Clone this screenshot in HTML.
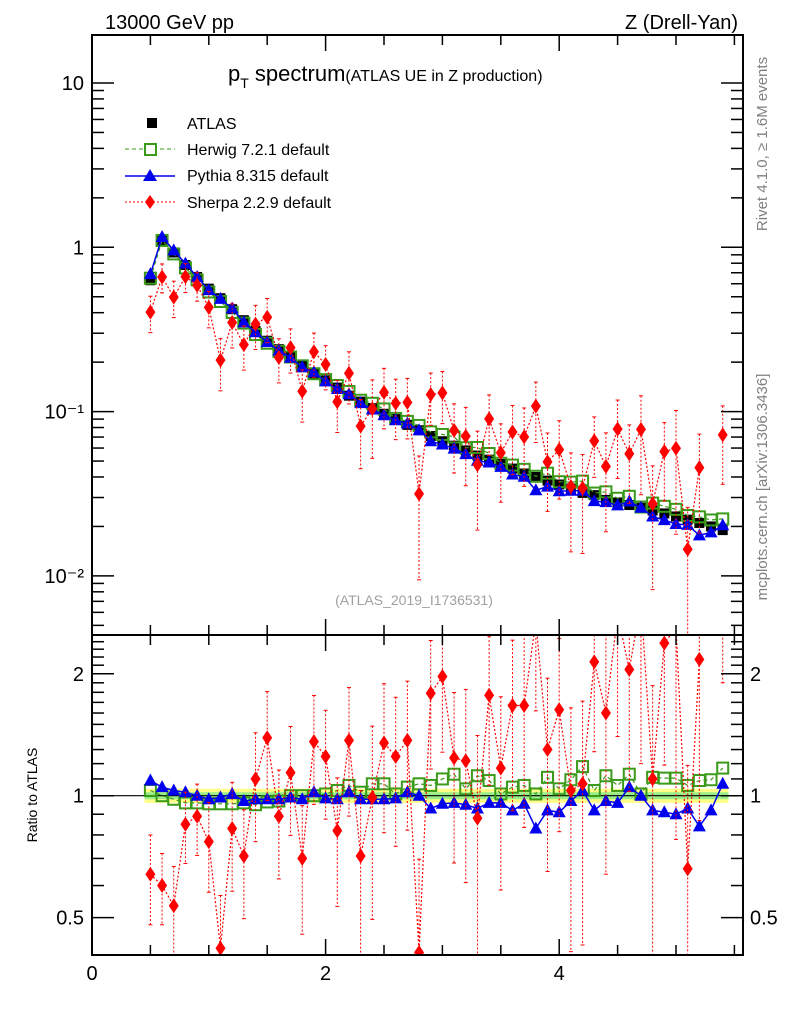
<!DOCTYPE html>
<html><head><meta charset="utf-8">
<style>
html,body{margin:0;padding:0;background:#fff;overflow:hidden;width:786px;height:1024px;}
svg{display:block;font-family:"Liberation Sans",sans-serif;}
</style></head>
<body>
<svg id="chart" width="786" height="1024" viewBox="0 0 786 1024" xmlns="http://www.w3.org/2000/svg">
<text x="105" y="29" font-size="20">13000 GeV pp</text>
<text x="738" y="29" font-size="20" text-anchor="end">Z (Drell-Yan)</text>
<text x="228" y="81" font-size="22">p<tspan font-size="14" dy="7">T</tspan><tspan dy="-7"> spectrum</tspan><tspan font-size="16">(ATLAS UE in Z production)</tspan></text>
<text x="414" y="605" font-size="14" fill="#a0a0a0" text-anchor="middle">(ATLAS_2019_I1736531)</text>
<text transform="translate(767,144) rotate(-90)" font-size="15" fill="#808080" text-anchor="middle">Rivet 4.1.0, ≥ 1.6M events</text>
<text transform="translate(767,487) rotate(-90)" font-size="15" fill="#808080" text-anchor="middle">mcplots.cern.ch [arXiv:1306.3436]</text>
<text transform="translate(37,795) rotate(-90)" font-size="14" text-anchor="middle">Ratio to ATLAS</text>
<g id="legend" font-size="16">
 <g><rect x="147" y="118" width="10" height="10" fill="#000"/><text x="187" y="129">ATLAS</text></g>
 <g><line x1="125" y1="149" x2="175" y2="149" stroke="#3a9a1a" stroke-dasharray="4,3"/><rect x="145" y="144" width="11" height="11" fill="#fff" stroke="#3a9a1a" stroke-width="2"/><text x="187" y="155">Herwig 7.2.1 default</text></g>
 <g><line x1="125" y1="176" x2="175" y2="176" stroke="#0000ee" stroke-width="1.5"/><polygon points="150,169 157,181 143,181" fill="#0000ee"/><text x="187" y="181">Pythia 8.315 default</text></g>
 <g><line x1="125" y1="202" x2="175" y2="202" stroke="#ff0000" stroke-dasharray="2,2"/><polygon points="150,195 155,202 150,209 145,202" fill="#ff0000"/><text x="187" y="208">Sherpa 2.2.9 default</text></g>
</g>
<g id="main"></g>
<g id="ratio"></g>
<g id="axes"></g>
</svg>
<script>
const xs=[0.5,0.6,0.7,0.8,0.9,1.0,1.1,1.2,1.3,1.4,1.5,1.6,1.7,1.8,1.9,2.0,2.1,2.2,2.3,2.4,2.5,2.6,2.7,2.8,2.9,3.0,3.1,3.2,3.3,3.4,3.5,3.6,3.7,3.8,3.9,4.0,4.1,4.2,4.3,4.4,4.5,4.6,4.7,4.8,4.9,5.0,5.1,5.2,5.3,5.4];
const atlas=[0.63,1.1,0.93,0.78,0.66,0.56,0.49,0.42,0.36,0.31,0.27,0.24,0.215,0.19,0.17,0.155,0.14,0.125,0.115,0.105,0.097,0.09,0.083,0.077,0.071,0.066,0.062,0.058,0.054,0.051,0.048,0.045,0.042,0.040,0.038,0.036,0.034,0.032,0.031,0.029,0.028,0.027,0.026,0.025,0.024,0.023,0.022,0.021,0.020,0.019];
const herwigRatio=[1.03,1.0,0.98,0.96,0.96,0.955,0.955,0.955,0.96,0.95,0.965,0.97,1.0,1.0,1.0,1.01,1.03,1.06,1.02,1.07,1.07,1.01,1.05,1.07,1.06,1.10,1.13,1.04,1.12,1.09,1.01,1.05,1.06,1.01,1.11,1.04,1.095,1.18,1.03,1.12,1.06,1.13,1.01,1.11,1.105,1.105,1.06,1.09,1.095,1.17];
const pythiaRatio=[1.09,1.05,1.03,1.02,1.0,0.98,0.99,1.01,0.97,0.98,0.98,0.98,0.99,0.98,1.02,0.985,0.98,1.02,0.98,0.98,0.98,0.985,1.02,1.0,0.93,0.955,0.96,0.95,0.93,0.96,0.96,0.92,0.955,0.83,0.92,0.91,0.97,1.03,0.92,0.97,0.96,1.05,1.0,0.92,0.91,0.90,0.93,0.84,0.92,1.07];
const sherpaRatio=[0.64,0.60,0.535,0.85,0.89,0.77,0.42,0.83,0.71,1.10,1.39,0.89,1.14,0.70,1.36,1.25,0.82,1.37,0.71,0.99,1.35,1.25,1.37,0.41,1.79,1.97,1.24,1.22,0.88,1.77,1.17,1.67,1.67,2.7,1.30,1.63,1.03,1.07,2.14,1.60,2.8,2.05,3.0,1.10,2.38,2.6,0.66,2.17,null,3.8];
const sherpaRelErr=[0.25,0.2,0.25,0.2,0.2,0.25,0.35,0.3,0.3,0.3,0.3,0.3,0.3,0.35,0.3,0.3,0.35,0.35,0.45,0.5,0.4,0.4,0.4,0.7,0.35,0.35,0.45,0.5,0.6,0.4,0.5,0.45,0.5,0.4,0.5,0.5,0.6,0.6,0.4,0.6,0.5,0.5,0.6,0.7,0.5,0.7,0.8,0.6,0.6,0.5];
const mainYTicks=["10","1","10\u207B\u00B9","10\u207B\u00B2"];
const ratioYTicks=[2,1,0.5];
const xTicks=[0,2,4];

const NS="http://www.w3.org/2000/svg";
const L=92,R=743,T=35,MB=635,RB=955;
const X=v=>L+v*116.8;
const Y=v=>83-(Math.log10(v)-1)*164.3;
const YR=v=>795.7-Math.log10(v)*405;
function el(tag,attrs,parent){const e=document.createElementNS(NS,tag);for(const k in attrs)e.setAttribute(k,attrs[k]);parent.appendChild(e);return e;}
const main=document.getElementById('main'),ratio=document.getElementById('ratio'),axes=document.getElementById('axes');

const defs=el('defs',{},document.getElementById('chart'));
const c1=el('clipPath',{id:'cm'},defs);el('rect',{x:L,y:T,width:R-L,height:MB-T},c1);
const c2=el('clipPath',{id:'cr'},defs);el('rect',{x:L,y:MB,width:R-L,height:RB-MB},c2);
main.setAttribute('clip-path','url(#cm)');ratio.setAttribute('clip-path','url(#cr)');

let bp='';xs.forEach((x,i)=>{bp+=(i?'L':'M')+(X(x)-5.8)+','+YR(1.04)+'L'+(X(x)+5.8)+','+YR(1.04);});
for(let i=xs.length-1;i>=0;i--){bp+='L'+(X(xs[i])+5.8)+','+YR(0.96)+'L'+(X(xs[i])-5.8)+','+YR(0.96);}
const band=el('path',{d:bp+'Z',fill:'#ffff88'},ratio);


let bp2='';xs.forEach((x,i)=>{bp2+=(i?'L':'M')+(X(x)-5.8)+','+YR(1.02)+'L'+(X(x)+5.8)+','+YR(1.02);});
for(let i=xs.length-1;i>=0;i--){bp2+='L'+(X(xs[i])+5.8)+','+YR(0.98)+'L'+(X(xs[i])-5.8)+','+YR(0.98);}
const band2=el('path',{d:bp2+'Z',fill:'#99ee88'},ratio);


const one=el('line',{x1:L,x2:R,y1:YR(1),y2:YR(1),stroke:'#000','stroke-width':1.2},ratio);



function series(parent,vals,yf,opt,name){
  const g=el('g',{},parent);
  
  
  let d='',started=false;
  vals.forEach((v,i)=>{if(v==null){started=false;return;}d+=(started?'L':'M')+X(xs[i])+','+yf(v);started=true;});
  if(opt.line) el('path',{d:d,fill:'none',stroke:opt.color,'stroke-width':opt.lw||1.2,'stroke-dasharray':opt.dash||'none'},g);
  vals.forEach((v,i)=>{
    if(v==null)return;
    const x=X(xs[i]),y=yf(v);
    if(opt.err){const e=opt.err[i]*v;const y1=yf(v+e),y2=yf(Math.max(v-e,v*0.05));
      el('line',{x1:x,x2:x,y1:y1,y2:y2,stroke:opt.color,'stroke-dasharray':'2,2'},g);
      el('line',{x1:x-2,x2:x+2,y1:y1,y2:y1,stroke:opt.color},g);
      el('line',{x1:x-2,x2:x+2,y1:y2,y2:y2,stroke:opt.color},g);}
    let m;
    if(opt.marker==='sq') m=el('rect',{x:x-5,y:y-5,width:10,height:10,fill:'#000'},g);
    else if(opt.marker==='osq') m=el('rect',{x:x-5.5,y:y-5.5,width:11,height:11,fill:'none',stroke:opt.color,'stroke-width':2},g);
    else if(opt.marker==='tri') m=el('polygon',{points:`${x},${y-7} ${x+6.5},${y+5} ${x-6.5},${y+5}`,fill:opt.color},g);
    else m=el('polygon',{points:`${x},${y-7.5} ${x+5},${y} ${x},${y+7.5} ${x-5},${y}`,fill:opt.color},g);
    
    
  });
}
const herwig=atlas.map((a,i)=>a*herwigRatio[i]);
const pythia=atlas.map((a,i)=>a*pythiaRatio[i]);
const sherpa=atlas.map((a,i)=>sherpaRatio[i]==null?null:a*sherpaRatio[i]);
series(main,atlas,Y,{marker:'sq'},'atlas-data');
series(main,herwig,Y,{marker:'osq',color:'#3a9a1a',line:1,dash:'4,3'},'herwig-series');
series(main,pythia,Y,{marker:'tri',color:'#0000ee',line:1,lw:1.5},'pythia-series');
series(main,sherpa,Y,{marker:'dia',color:'#ff0000',line:1,dash:'2,2',err:sherpaRelErr},'sherpa-series');
series(ratio,herwigRatio,YR,{marker:'osq',color:'#3a9a1a',line:1,dash:'4,3'},'herwig-ratio');
series(ratio,pythiaRatio,YR,{marker:'tri',color:'#0000ee',line:1,lw:1.5},'pythia-ratio');
series(ratio,sherpaRatio,YR,{marker:'dia',color:'#ff0000',line:1,dash:'2,2',err:sherpaRelErr},'sherpa-ratio');

[[T,MB],[MB,RB]].forEach((p,i)=>{const f=el('rect',{x:L,y:p[0],width:R-L,height:p[1]-p[0],fill:'none',stroke:'#000','stroke-width':2},axes);

});
for(let v=0;v<=5.5;v+=0.5){const major=xTicks.includes(v);const len=major?16:10;
 [[T,1],[MB,-1],[MB,1],[RB,-1]].forEach(p=>el('line',{x1:X(v),x2:X(v),y1:p[0],y2:p[0]+p[1]*len,stroke:'#000','stroke-width':1.5},axes));}
xTicks.forEach(v=>{const t=el('text',{x:X(v),y:980,'font-size':20,'text-anchor':'middle'},axes);t.textContent=v;

});
for(let e=-3;e<=1;e++){for(let m=1;m<=9;m++){const v=m*Math.pow(10,e);const y=Y(v);if(y<T||y>MB)continue;const len=m==1?22:12;
 el('line',{x1:L,x2:L+len,y1:y,y2:y,stroke:'#000','stroke-width':1.5},axes);el('line',{x1:R,x2:R-len,y1:y,y2:y,stroke:'#000','stroke-width':1.5},axes);}}
const decs=[10,1,0.1,0.01];
mainYTicks.forEach((s,i)=>{const t=el('text',{x:84,y:Y(decs[i])+7,'font-size':20,'text-anchor':'end'},axes);t.textContent=s;

});
for(let v=0.4;v<=2.5;v=Math.round((v+0.1)*10)/10){const y=YR(v);if(y<MB||y>RB)continue;const major=ratioYTicks.includes(v);const len=major?22:12;
 el('line',{x1:L,x2:L+len,y1:y,y2:y,stroke:'#000','stroke-width':1.5},axes);el('line',{x1:R,x2:R-len,y1:y,y2:y,stroke:'#000','stroke-width':1.5},axes);}
ratioYTicks.forEach(v=>{[[84,'end'],[750,'start']].forEach(p=>{const t=el('text',{x:p[0],y:YR(v)+7,'font-size':20,'text-anchor':p[1]},axes);t.textContent=v;

});});
</script>
</body></html>
